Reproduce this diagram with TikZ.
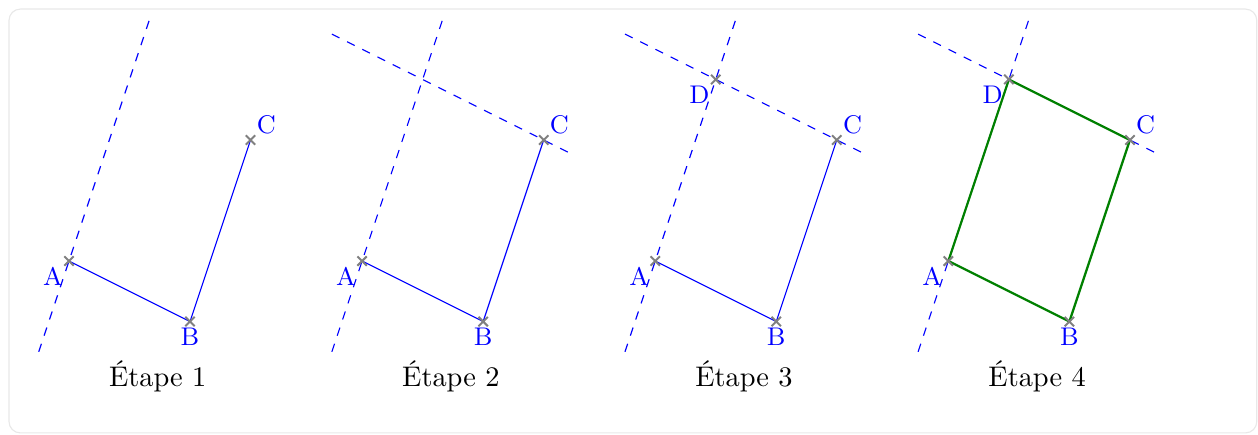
\documentclass[tikz,border=0pt]{standalone}
\usetikzlibrary{shapes.misc}
\begin{document}
\begin{tikzpicture}[x=0.5cm,y=0.5cm,
  seg/.style={blue, line width=0.4pt},
  guide/.style={blue, dashed, line width=0.4pt},
  final/.style={green!50!black, thick, line join=round},
  ptmark/.style={cross out, draw=gray, line width=0.7pt, minimum size=2.6pt, inner sep=0pt},
  ptlabel/.style={blue, font=\small, inner sep=2pt},
  caption/.style={font=\normalsize, inner sep=0pt},
  frame/.style={draw=gray!18, line width=0.4pt, rounded corners=4pt}]
\useasboundingbox (-1.71,-4.29) rectangle (29.47,6.47);
\draw[frame] (-1.487,-4.26) rectangle (29.44,6.245);
\foreach \i in {1,...,4}{
  \begin{scope}[shift={({(\i-1)*7.265},0)}]
    \coordinate (A\i) at (0,0);
    \coordinate (B\i) at (3,-1.5);
    \coordinate (C\i) at (4.5,3);
    \coordinate (D\i) at (1.5,4.5);
    \coordinate (P\i) at (-0.75,-2.25);
    \coordinate (Q\i) at (2,6);
    \coordinate (R\i) at (-0.75,5.625);
    \coordinate (S\i) at (5.25,2.625);
    \node[caption] (E\i) at (2.2,-2.86) {Étape \i};
  \end{scope}
}
% guide lines
\foreach \i in {1,...,4}{ \draw[guide] (P\i) -- (Q\i); }
\foreach \i in {2,3,4}{ \draw[guide] (R\i) -- (S\i); }
% given segments
\foreach \i in {1,2,3}{ \draw[seg] (A\i) -- (B\i) -- (C\i); }
% final parallelogram
\draw[final] (A4) -- (B4) -- (C4) -- (D4) -- cycle;
% marks and labels
\foreach \i in {1,...,4}{
  \node[ptmark] (mA\i) at (A\i) {};
  \node[ptmark] (mB\i) at (B\i) {};
  \node[ptmark] (mC\i) at (C\i) {};
  \node[ptlabel, below left] (lA\i) at (A\i) {A};
  \node[ptlabel, below] (lB\i) at (B\i) {B};
  \node[ptlabel, above right] (lC\i) at (C\i) {C};
}
\foreach \i in {3,4}{
  \node[ptmark] (mD\i) at (D\i) {};
  \node[ptlabel, below left] (lD\i) at (D\i) {D};
}
\end{tikzpicture}
\end{document}
